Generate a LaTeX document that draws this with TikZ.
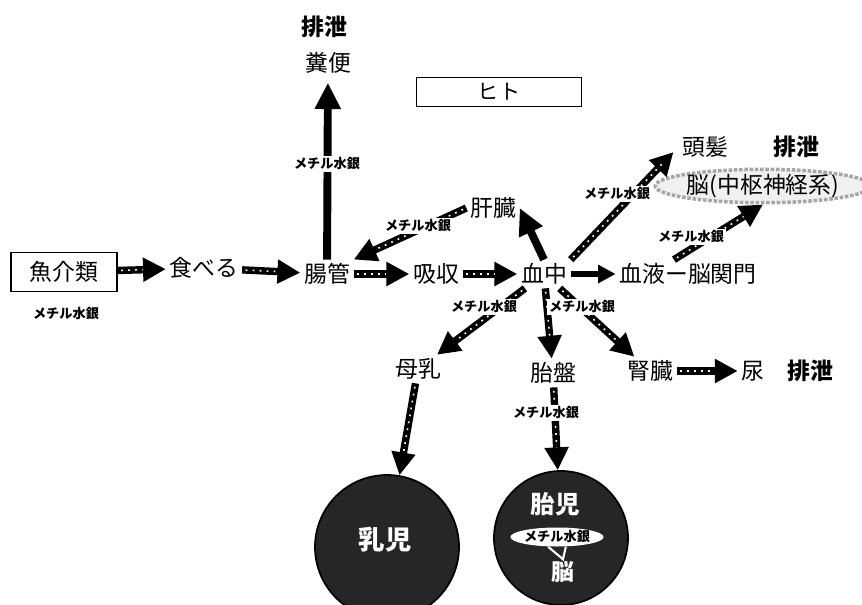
\documentclass[tikz,border=0pt]{standalone}
\usepackage{fontspec}
\setmainfont{Noto Sans CJK JP}
\usetikzlibrary{arrows.meta,shapes.geometric}

\tikzset{
  lbl/.style={font=\fontsize{13}{15}\selectfont, inner sep=2pt},
  haisetsu/.style={font=\fontsize{13}{15}\selectfont\bfseries, inner sep=2pt},
  mehg/.style={font=\fontsize{7.5}{9}\selectfont\bfseries, fill=white, inner sep=1pt},
  frame/.style={draw, line width=0.8pt, inner sep=2pt},
  ball/.style={circle, fill=black!85, draw=black, line width=1pt},
  solidarr/.style={-{Triangle[length=15pt,width=14pt]}, line width=4.5pt},
  smallarr/.style={-{Triangle[length=10pt,width=10pt]}, line width=3.5pt},
  dotarr/.style={-{Triangle[length=13pt,width=13pt]}, line width=4.2pt,
    postaction={draw=white, -, line width=0.9pt, dash pattern=on 1pt off 3pt, shorten >=13pt, shorten <=2pt}},
}

\begin{document}
\begin{tikzpicture}[x=0.02cm, y=-0.02cm]
  \useasboundingbox (0,0) rectangle (862,605);
  % ------------------------------------------------ main chain
  \node[frame, lbl, minimum width=2.12cm, minimum height=0.78cm] (sakana) at (64,272) {魚介類};
  \node[mehg] (mehg0) at (66,314) {メチル水銀};
  \node[lbl] (taberu) at (204,268) {食べる};
  \node[lbl] (chokan) at (327,274) {腸管};
  \node[lbl] (kyushu) at (436,274) {吸収};
  \node[lbl] (ketchu) at (544,274) {血中};
  \node[lbl] (bbb) at (688,274) {血液ー脳関門};
  % ------------------------------------------------ upper part
  \node[haisetsu] (haisetsuA) at (324,27) {排泄};
  \node[lbl] (fumben) at (328,63) {糞便};
  \node[frame, font=\fontsize{12}{14}\selectfont, minimum width=3.3cm, minimum height=0.58cm] (hito) at (499,92) {ヒト};
  \node[lbl] (kanzo) at (493,208) {肝臓};
  \node[lbl] (tohatsu) at (705,147) {頭髪};
  \node[haisetsu] (haisetsuB) at (796,147) {排泄};
  \node[ellipse, draw=gray!70, line width=2pt, densely dotted, fill=gray!12, lbl,
        minimum width=3.84cm, minimum height=0.56cm, inner sep=0pt] (nou) at (763,186) {脳(中枢神経系)};
  % ------------------------------------------------ lower part
  \node[lbl] (bonyu) at (418,369) {母乳};
  \node[lbl] (taiban) at (553,373) {胎盤};
  \node[lbl] (jinzo) at (650,371) {腎臓};
  \node[lbl] (nyo) at (753,371) {尿};
  \node[haisetsu] (haisetsuC) at (810,371) {排泄};
  \node[ball, minimum size=2.88cm] (nyuji) at (387,547) {};
  \node[text=white, font=\fontsize{15}{17}\selectfont\bfseries] (nyujiTxt) at (385,540) {乳児};
  \node[ball, minimum size=2.68cm] (taiji) at (561,538) {};
  \node[text=white, font=\fontsize{14}{16}\selectfont\bfseries] (taijiTxt) at (555,504) {胎児};
  \node[ellipse, fill=white, font=\fontsize{7.5}{9}\selectfont\bfseries,
        minimum width=1.54cm, minimum height=0.38cm, inner sep=0pt] (mehgin) at (557,537) {メチル水銀};
  \node[text=white, font=\fontsize{13}{15}\selectfont\bfseries, inner sep=1pt] (nouS) at (563,572) {脳};
  \draw[white, line width=1.2pt] ([xshift=-5pt]mehgin.south) -- (nouS.north) -- ([xshift=5pt]mehgin.south);
  % ------------------------------------------------ connectors
  \draw[dotarr] (sakana) -- (taberu);
  \draw[dotarr] (taberu) -- (chokan);
  \draw[dotarr] (chokan) -- (kyushu);
  \draw[dotarr] (kyushu) -- (ketchu);
  \draw[smallarr] (ketchu) -- (bbb);
  \draw[solidarr, shorten >=3pt] (chokan) -- (fumben);
  \draw[solidarr] (ketchu.north) -- (kanzo.east);
  \draw[dotarr] (kanzo.west) -- (chokan.north east);
  \draw[dotarr, shorten >=4pt] (ketchu.north east) -- (tohatsu.west);
  \draw[dotarr] ([xshift=-8pt]bbb.north) -- (nou.south);
  \draw[dotarr] (ketchu) -- (bonyu);
  \draw[dotarr] (ketchu) -- (taiban);
  \draw[dotarr] (ketchu) -- (jinzo);
  \draw[dotarr] (jinzo) -- (nyo);
  \draw[dotarr] (bonyu) -- (nyuji);
  \draw[dotarr] (taiban) -- (taiji);
  % ------------------------------------------------ labels on connectors
  \node[mehg] (mehg1) at (327,164) {メチル水銀};
  \node[mehg] (mehg2) at (418,226) {メチル水銀};
  \node[mehg] (mehg3) at (617,194) {メチル水銀};
  \node[mehg] (mehg4) at (691,237) {メチル水銀};
  \node[mehg] (mehg5) at (484,307) {メチル水銀};
  \node[mehg] (mehg6) at (582,307) {メチル水銀};
  \node[mehg] (mehg7) at (546,413) {メチル水銀};
\end{tikzpicture}
\end{document}
